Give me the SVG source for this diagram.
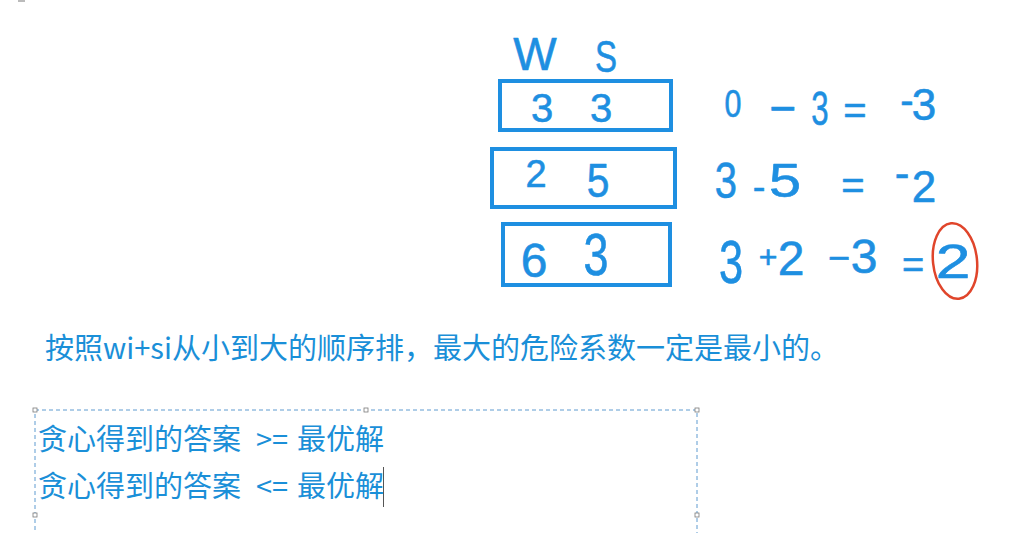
<svg xmlns="http://www.w3.org/2000/svg" width="1035" height="533" viewBox="0 0 1035 533">
<style>
.hw{font-family:"Liberation Sans",Arial,sans-serif;fill:#1e8fe1;stroke:#1e8fe1;stroke-width:0.6;stroke-linejoin:round;text-anchor:middle}
.box{fill:none;stroke:#1e8fe1;stroke-width:4}
.cn{font-family:"Noto Sans CJK SC","Noto Sans",sans-serif;fill:#1a8fd8;font-size:29px}
.handle{fill:#fff;stroke:#7a7a7a;stroke-width:0.8}
</style>
<rect width="1035" height="533" fill="#fff"/>
<rect x="18" y="0" width="7" height="2" fill="#bbb"/>
<g id="header">
<text class="hw" font-size="46" transform="translate(535,70)">W</text>
<text class="hw" font-size="44" transform="translate(606,72) scale(0.75,1)">S</text>
</g>
<g id="row1">
<rect class="box" x="500" y="81" width="171" height="49"/>
<text class="hw" font-size="40" transform="translate(542,122)">3</text>
<text class="hw" font-size="40" transform="translate(601,122)">3</text>
<text class="hw" font-size="38" transform="translate(733,117) scale(0.8,1)">0</text>
<text class="hw" font-size="46" transform="translate(783,124)">−</text>
<text class="hw" font-size="48" transform="translate(820,125) scale(0.65,1)">3</text>
<text class="hw" font-size="40" transform="translate(855,124)">=</text>
<text class="hw" font-size="40" transform="translate(907,114)">-</text>
<text class="hw" font-size="44" transform="translate(924,120)">3</text>
</g>
<g id="row2">
<rect class="box" x="492" y="149" width="183" height="58"/>
<text class="hw" font-size="38" transform="translate(536,187)">2</text>
<text class="hw" font-size="48" transform="translate(598,197) scale(0.85,1)">5</text>
<text class="hw" font-size="50" transform="translate(726,198) scale(0.8,1)">3</text>
<text class="hw" font-size="38" transform="translate(759,200)">-</text>
<text class="hw" font-size="48" transform="translate(785,197) scale(1.2,1)">5</text>
<text class="hw" font-size="40" transform="translate(853,199)">=</text>
<text class="hw" font-size="44" transform="translate(902,188)">-</text>
<text class="hw" font-size="44" transform="translate(924,202)">2</text>
</g>
<g id="row3">
<rect class="box" x="503" y="224" width="167" height="61"/>
<text class="hw" font-size="48" transform="translate(534,277)">6</text>
<text class="hw" font-size="60" transform="translate(596,275) scale(0.75,1)">3</text>
<text class="hw" font-size="62" transform="translate(731,283) scale(0.7,1)">3</text>
<text class="hw" font-size="32" transform="translate(768,268)">+</text>
<text class="hw" font-size="48" transform="translate(791,275)">2</text>
<text class="hw" font-size="38" transform="translate(839,271)">−</text>
<text class="hw" font-size="48" transform="translate(864,273)">3</text>
<text class="hw" font-size="38" transform="translate(913,278)">=</text>
<text class="hw" font-size="48" transform="translate(953,278) scale(1.3,1)">2</text>
<ellipse cx="955" cy="261" rx="22" ry="38" fill="none" stroke="#e0452b" stroke-width="2.5" transform="rotate(-6 955 261)"/>
</g>
<g id="sentence">
<text class="cn" x="45" y="359">按照wi+si从小到大的顺序排，最大的危险系数一定是最小的。</text>
</g>
<g id="textbox">
<rect x="35" y="410" width="662" height="210" fill="none" stroke="#5e9bd0" stroke-width="1" stroke-dasharray="4,3"/>
<rect class="handle" x="33" y="408" width="4" height="4"/>
<rect class="handle" x="364" y="408" width="4" height="4"/>
<rect class="handle" x="695" y="408" width="4" height="4"/>
<rect class="handle" x="33" y="513" width="4" height="4"/>
<rect class="handle" x="695" y="513" width="4" height="4"/>
<text class="cn" y="450"><tspan x="38">贪心得到的答案</tspan><tspan x="256">&gt;=</tspan><tspan x="297">最优解</tspan></text>
<text class="cn" y="497"><tspan x="38">贪心得到的答案</tspan><tspan x="256">&lt;=</tspan><tspan x="297">最优解</tspan></text>
<line x1="383.5" y1="467" x2="383.5" y2="507" stroke="#555" stroke-width="1"/>
</g>
</svg>
